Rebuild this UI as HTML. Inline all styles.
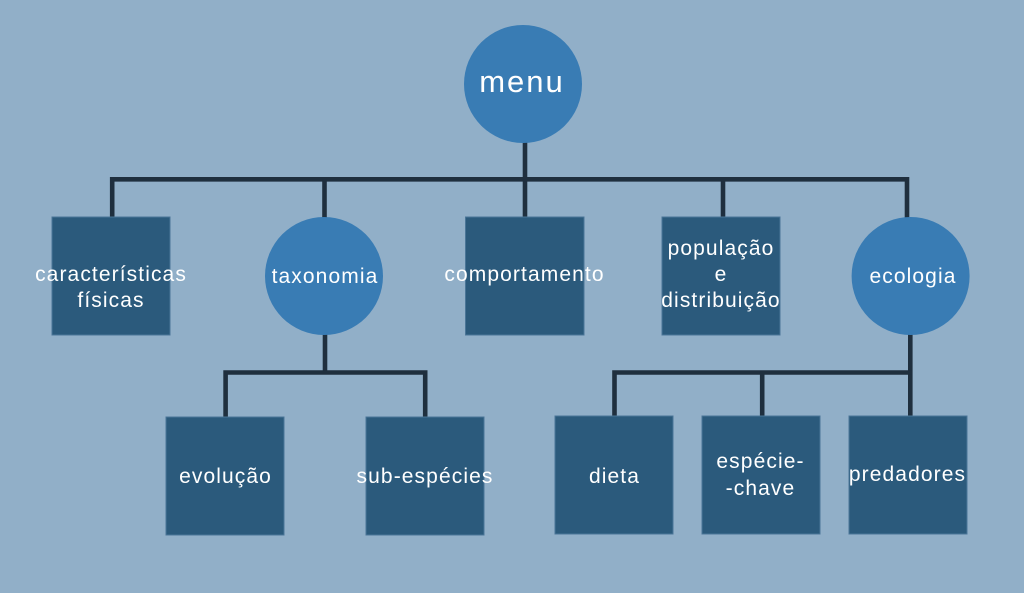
<!DOCTYPE html>
<html><head><meta charset="utf-8"><style>
html,body{margin:0;padding:0;background:#91afc8;}
svg{display:block;}
text{font-family:"Liberation Sans",sans-serif;fill:#fff;text-anchor:middle;font-size:21px;letter-spacing:1.1px;}
</style></head><body>
<svg width="1024" height="593" viewBox="0 0 1024 593" xmlns="http://www.w3.org/2000/svg">
<rect width="1024" height="593" fill="#91afc8"/>
<g stroke="#1f2f3e" stroke-width="4.6" fill="none" stroke-linejoin="miter" stroke-linecap="butt">
  <path d="M525 140 V218"/>
  <path d="M112.2 218 V179.3 H907 V218"/>
  <path d="M324.5 179 V218"/>
  <path d="M723 179 V218"/>
  <path d="M325 333 V372.5"/>
  <path d="M225.6 418 V372.5 H425.2 V418"/>
  <path d="M910.3 333 V418"/>
  <path d="M614.5 418 V372.5 H912.5"/>
  <path d="M762.2 372 V418"/>
</g>
<g fill="#2b5a7c" stroke="#4a7597" stroke-width="1">
  <rect x="52" y="217" width="118" height="118"/>
  <rect x="465.5" y="217" width="118.5" height="118"/>
  <rect x="662" y="217" width="118" height="118"/>
  <rect x="166" y="417" width="118" height="118"/>
  <rect x="366" y="417" width="118" height="118"/>
  <rect x="555" y="416" width="118" height="118"/>
  <rect x="702" y="416" width="118" height="118"/>
  <rect x="849" y="416" width="118" height="118"/>
</g>
<g fill="#397cb4">
  <circle cx="523" cy="84" r="59"/>
  <circle cx="324" cy="276" r="59"/>
  <circle cx="910.6" cy="276" r="59"/>
</g>
<text x="522" y="92" style="font-size:31px;letter-spacing:2px">menu</text>
<text x="111" y="281">características</text>
<text x="111" y="307">físicas</text>
<text x="325" y="283">taxonomia</text>
<text x="524.5" y="281">comportamento</text>
<text x="721" y="255">população</text>
<text x="721" y="281">e</text>
<text x="721" y="307">distribuição</text>
<text x="913" y="283">ecologia</text>
<text x="225.5" y="483">evolução</text>
<text x="425" y="483">sub-espécies</text>
<text x="614.5" y="483">dieta</text>
<text x="760.5" y="468">espécie-</text>
<text x="760.5" y="495">-chave</text>
<text x="907.5" y="481">predadores</text>
</svg>
</body></html>
